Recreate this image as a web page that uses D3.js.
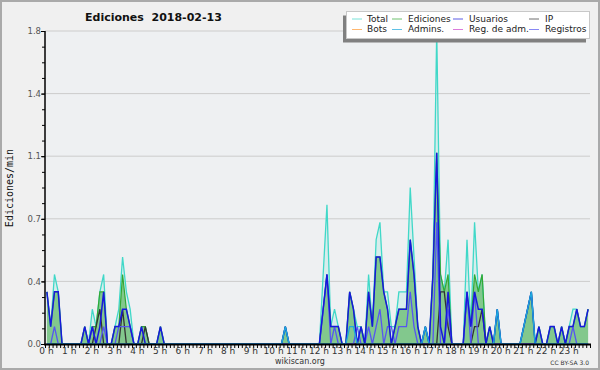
<!DOCTYPE html>
<html><head><meta charset="utf-8">
<script src="https://cdn.jsdelivr.net/npm/d3@7"></script>
<style>body{margin:0;background:#f0f0f0}svg{display:block}</style>
</head><body>
<svg id="c" width="600" height="370"></svg>
<script>
// 10-minute bins, values in edits per minute; one row per hour
const total = [
 [0.3,0.1,0.4,0.3,0,0],[0,0,0,0,0.1,0],[0.2,0.1,0.3,0.4,0,0],[0.1,0.2,0.5,0.3,0.2,0],
 [0,0.1,0.1,0,0,0],[0.1,0,0,0,0,0],[0,0,0,0,0,0],[0,0,0,0,0,0],
 [0,0,0,0,0,0],[0,0,0,0,0,0],[0,0,0,0.1,0,0],[0,0,0,0,0,0],
 [0,0.4,0.8,0.1,0.2,0.1],[0,0,0.3,0.2,0.1,0.1],[0,0.4,0.1,0.6,0.7,0.3],[0.3,0.1,0.1,0.3,0.3,0.3],
 [0.9,0.5,0.1,0,0.1,0],[0.4,1.8,0.4,0.3,0.6,0],[0,0,0,0.6,0.1,0.7],[0.3,0.4,0,0.1,0,0.2],
 [0,0,0,0,0,0],[0.1,0.2,0.3,0,0.1,0],[0,0.1,0.1,0,0.1,0],[0.1,0.2,0.2,0.1,0.1,0.2]
].flat();
const ediciones = [
 [0.3,0.1,0.3,0.3,0,0],[0,0,0,0,0.1,0],[0.1,0.1,0.3,0.3,0,0],[0.1,0.1,0.4,0.2,0.1,0],
 [0,0.1,0.1,0,0,0],[0.1,0,0,0,0,0],[0,0,0,0,0,0],[0,0,0,0,0,0],
 [0,0,0,0,0,0],[0,0,0,0,0,0],[0,0,0,0.1,0,0],[0,0,0,0,0,0],
 [0,0.2,0.4,0.1,0.1,0.1],[0,0,0.3,0.2,0,0.1],[0,0.3,0.1,0.5,0.5,0.3],[0.2,0,0.1,0.2,0.2,0.2],
 [0.6,0.4,0.1,0,0.1,0],[0.4,1.1,0.4,0.3,0.4,0],[0,0,0,0.3,0.1,0.4],[0.3,0.4,0,0.1,0,0.2],
 [0,0,0,0,0,0],[0.1,0.2,0.3,0,0.1,0],[0,0.1,0.1,0,0.1,0],[0.1,0.1,0.2,0.1,0.1,0.2]
].flat();
const usuarios = [
 [0.3,0.1,0.3,0.3,0,0],[0,0,0,0,0.1,0],[0.1,0,0.1,0.3,0,0],[0.1,0.1,0.2,0.2,0.1,0],
 [0,0.1,0,0,0,0],[0.1,0,0,0,0,0],[0,0,0,0,0,0],[0,0,0,0,0,0],
 [0,0,0,0,0,0],[0,0,0,0,0,0],[0,0,0,0.1,0,0],[0,0,0,0,0,0],
 [0,0.2,0.4,0.1,0.1,0.1],[0,0,0.3,0.2,0,0.1],[0,0.3,0.1,0.5,0.5,0.3],[0.2,0,0.1,0.2,0.2,0.2],
 [0.6,0.4,0.1,0,0.1,0],[0.4,1.1,0.1,0,0.3,0],[0,0,0,0.3,0.1,0.3],[0.2,0.2,0,0.1,0,0.2],
 [0,0,0,0,0,0],[0.1,0.2,0.3,0,0.1,0],[0,0.1,0.1,0,0.1,0],[0.1,0.1,0.2,0.1,0.1,0.2]
].flat();
const ip = [
 [0,0,0,0,0,0],[0,0,0,0,0,0],[0,0.1,0.2,0,0,0],[0,0,0.2,0,0,0],
 [0,0,0.1,0,0,0],[0,0,0,0,0,0],[0,0,0,0,0,0],[0,0,0,0,0,0],
 [0,0,0,0,0,0],[0,0,0,0,0,0],[0,0,0,0,0,0],[0,0,0,0,0,0],
 [0,0,0,0,0,0],[0,0,0,0,0,0],[0,0,0,0,0,0],[0,0,0,0,0,0],
 [0,0,0,0,0,0],[0,0,0.3,0.3,0.1,0],[0,0,0,0,0,0.1],[0.1,0.2,0,0,0,0],
 [0,0,0,0,0,0],[0,0,0,0,0,0],[0,0,0,0,0,0],[0,0,0,0,0,0]
].flat();
const registros = [
 [0,0,0.1,0,0,0],[0,0,0,0,0,0],[0.1,0,0,0.1,0,0],[0,0.1,0.1,0.1,0.1,0],
 [0,0,0,0,0,0],[0,0,0,0,0,0],[0,0,0,0,0,0],[0,0,0,0,0,0],
 [0,0,0,0,0,0],[0,0,0,0,0,0],[0,0,0,0,0,0],[0,0,0,0,0,0],
 [0,0.2,0.4,0,0.1,0],[0,0,0,0,0.1,0],[0,0.1,0,0.1,0.2,0],[0.1,0.1,0,0.1,0.1,0.1],
 [0.3,0.1,0,0,0,0],[0,0.7,0,0,0.2,0],[0,0,0,0.3,0,0.3],[0,0,0,0,0,0],
 [0,0,0,0,0,0],[0,0,0,0,0,0],[0,0,0,0,0,0],[0,0.1,0,0,0,0]
].flat();
const admins = [
 [0,0,0,0,0,0],[0,0,0,0,0,0],[0,0,0,0,0,0],[0,0,0,0,0,0],
 [0,0,0,0,0,0],[0,0,0,0,0,0],[0,0,0,0,0,0],[0,0,0,0,0,0],
 [0,0,0,0,0,0],[0,0,0,0,0,0],[0,0,0,0.1,0,0],[0,0,0,0,0,0],
 [0,0,0,0,0,0],[0,0,0.1,0.1,0,0],[0,0,0,0,0,0],[0,0,0,0,0,0],
 [0,0,0,0,0.1,0],[0,0,0,0,0,0],[0,0,0,0,0,0],[0,0,0,0,0,0.2],
 [0,0,0,0,0,0],[0.1,0.2,0.3,0,0,0],[0,0,0,0,0,0],[0,0,0,0,0,0]
].flat();
const bots = new Array(144).fill(0);
const regAdm = new Array(144).fill(0);

const legendNames = ["Total","Ediciones","Usuarios","IP","Bots","Admins.","Reg. de adm.","Registros"];
const yTickValues = [0,0.36,0.72,1.08,1.44,1.8];
const hourLabels = d3.range(0,24).map(h => h + " h");
const titleText = "Ediciones  2018-02-13";

const colors = {
  total:"#40d8c8", ediciones:"#33a833", usuarios:"#1818dc", ip:"#333333",
  bots:"#ff9933", admins:"#1ea8dc", regAdm:"#cc44cc", registros:"#5656f0"
};
const legendColors = [colors.total,colors.ediciones,colors.usuarios,colors.ip,colors.bots,colors.admins,colors.regAdm,colors.registros];

const svg = d3.select("#c");
const FONT = "DejaVu Sans, sans-serif";

svg.append("rect").attr("x",0).attr("y",0).attr("width",600).attr("height",370)
  .attr("fill","#f0f0f0");
svg.append("rect").attr("x",45).attr("y",31).attr("width",545).attr("height",313)
  .attr("fill","#eef0f2");

const x = d3.scaleLinear().domain([0,144]).range([45,590]);
const xh = d3.scaleLinear().domain([0,24]).range([45,590]);
const y = d3.scaleLinear().domain([0,1.8]).range([344,31]);

// grid
svg.append("g").selectAll("line").data(yTickValues.slice(1)).join("line")
  .attr("x1",45).attr("x2",590).attr("y1",d=>y(d)).attr("y2",d=>y(d))
  .attr("stroke","#cccccc").attr("stroke-width",1);

const line = d3.line().x((d,i)=>x(i+0.5)).y(d=>y(d));
const area = d3.area().x((d,i)=>x(i+0.5)).y0(y(0)).y1(d=>y(d));

svg.append("path").datum(total).attr("d",area).attr("fill","rgba(64,216,200,0.13)");
svg.append("path").datum(ediciones).attr("d",area).attr("fill","rgba(34,160,34,0.47)");

function drawLine(data,color,w){
  svg.append("path").datum(data).attr("d",line).attr("fill","none")
    .attr("stroke",color).attr("stroke-width",w).attr("stroke-linejoin","miter");
}
drawLine(bots,colors.bots,1.2);
drawLine(regAdm,colors.regAdm,1.2);
drawLine(total,colors.total,1.3);
drawLine(ediciones,colors.ediciones,1.2);
drawLine(ip,colors.ip,1.3);
drawLine(registros,colors.registros,1.3);
drawLine(usuarios,colors.usuarios,1.5);
drawLine(admins,colors.admins,1.3);

// y axis
const minor = d3.range(0,21).map(i=>i*0.09);
const gy = svg.append("g").attr("transform","translate(45,0)");
gy.call(d3.axisLeft(y).tickValues(minor).tickSizeInner(3).tickSizeOuter(0).tickFormat(""));
const gy2 = svg.append("g").attr("transform","translate(45,0)");
gy2.call(d3.axisLeft(y).tickValues(yTickValues).tickSizeInner(4).tickSizeOuter(0).tickPadding(0)
  .tickFormat(d3.format(".1f")));
[gy,gy2].forEach(g=>{g.select(".domain").remove(); g.selectAll("line").attr("stroke","#000");});
gy2.selectAll("text").attr("font-family",FONT).attr("font-size",8.5).attr("fill","#555");
svg.append("line").attr("x1",45).attr("x2",45).attr("y1",31).attr("y2",345)
  .attr("stroke","#000").attr("stroke-width",1.5);

// x axis
const gx = svg.append("g").attr("transform","translate(0,344)");
gx.call(d3.axisBottom(xh).tickValues(d3.range(0,145).map(i=>i/6)).tickSizeInner(4).tickSizeOuter(0).tickFormat(""));
gx.select(".domain").remove();
gx.selectAll("line").attr("stroke","#000");
const gx2 = svg.append("g").attr("transform","translate(1,344)");
gx2.call(d3.axisBottom(xh).tickValues(d3.range(0,24)).tickSizeInner(0).tickSizeOuter(0).tickPadding(4)
  .tickFormat((d,i)=>hourLabels[i]));
gx2.select(".domain").remove();
gx2.selectAll("text").attr("font-family",FONT).attr("font-size",9).attr("fill","#333");
svg.append("line").attr("x1",44).attr("x2",591).attr("y1",344.5).attr("y2",344.5)
  .attr("stroke","#000").attr("stroke-width",2);

// title and labels
svg.append("text").attr("x",85).attr("y",20.5).attr("font-family",FONT).attr("font-weight","bold")
  .attr("font-size",11).attr("fill","#111").attr("xml:space","preserve").style("white-space","pre").text(titleText);
svg.append("text").attr("transform","translate(13,188) rotate(-90)").attr("text-anchor","middle")
  .attr("font-family","DejaVu Sans Mono, monospace").attr("font-size",10).attr("fill","#111").text("Ediciones/min");
svg.append("text").attr("x",300).attr("y",363.5).attr("text-anchor","middle").attr("font-family",FONT)
  .attr("font-size",8).attr("fill","#333").text("wikiscan.org");
svg.append("text").attr("x",589).attr("y",365).attr("text-anchor","end").attr("font-family",FONT)
  .attr("font-size",6).attr("fill","#333").text("CC BY-SA 3.0");

// legend
const lg = svg.append("g");
lg.append("rect").attr("x",343).attr("y",15.5).attr("width",243).attr("height",27).attr("fill","#808080");
lg.append("rect").attr("x",346.5).attr("y",11.5).attr("width",243).attr("height",27)
  .attr("fill","#ffffff").attr("stroke","#c8c8c8").attr("stroke-width",1);
const colSw = [352,392,453,529], colTx = [367,408,469,545];
legendNames.forEach((n,i)=>{
  const c = i%4, r = Math.floor(i/4);
  const sy = r===0 ? 19 : 29.5, ty = r===0 ? 21.8 : 32.2;
  lg.append("line").attr("x1",colSw[c]).attr("x2",colSw[c]+10).attr("y1",sy).attr("y2",sy)
    .attr("stroke",legendColors[i]).attr("stroke-width",1).attr("opacity",0.7);
  lg.append("text").attr("x",colTx[c]).attr("y",ty).attr("font-family",FONT).attr("font-size",9)
    .attr("fill","#222").text(n);
});

// frame
svg.append("rect").attr("x",1).attr("y",1).attr("width",598).attr("height",368)
  .attr("fill","none").attr("stroke","#aaaaaa").attr("stroke-width",2);
</script>
</body></html>
